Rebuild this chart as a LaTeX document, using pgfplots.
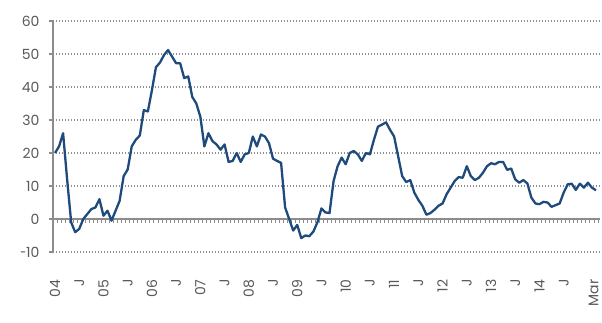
\documentclass[border=0pt]{standalone}
\usepackage{pgfplots}
\pgfplotsset{compat=1.18}
\usepackage{fontspec}
\setmainfont{Poppins}
\definecolor{navy}{HTML}{1F4A7C}
\definecolor{axgray}{HTML}{8C8C8C}
\definecolor{gridgray}{HTML}{8F8F8F}
\definecolor{txtgray}{HTML}{595959}

% Monthly series, Jan 2004 (index 0) to Mar 2015 (index 134)
\pgfplotstableread{
m v
0 20
1 22
2 26
3 12
4 -1
5 -4
6 -3
7 0
8 1.5
9 3
10 3.5
11 6
12 1
13 2.5
14 -0.5
15 2.5
16 5.5
17 13
18 15
19 22
20 24
21 25.3
22 33
23 32.6
24 39
25 46
26 47.4
27 49.7
28 51.2
29 49.2
30 47.2
31 47.2
32 42.7
33 43.2
34 37
35 35
36 31
37 22
38 26
39 23.6
40 22.6
41 21
42 22.6
43 17.3
44 17.6
45 20
46 17.3
47 19.6
48 20
49 25
50 22
51 25.6
52 25
53 23
54 18.3
55 17.6
56 17
57 3.5
58 0
59 -3.5
60 -1.8
61 -5.8
62 -5
63 -5.2
64 -3.8
65 -1
66 3.2
67 2
68 1.8
69 11.5
70 16
71 18.6
72 16.6
73 20
74 20.6
75 19.6
76 17.6
77 20
78 19.6
79 24
80 28
81 28.6
82 29.3
83 27
84 25
85 19
86 13
87 11.2
88 11.8
89 8
90 5.8
91 4
92 1.3
93 1.8
94 2.8
95 4
96 4.7
97 7.5
98 9.5
99 11.5
100 12.7
101 12.5
102 16
103 13
104 11.8
105 12.5
106 14
107 16
108 16.9
109 16.6
110 17.3
111 17.3
112 14.9
113 15.3
114 12
115 11
116 11.8
117 10.8
118 6.5
119 4.7
120 4.5
121 5.2
122 5
123 3.7
124 4.2
125 4.7
126 8
127 10.5
128 10.7
129 8.8
130 10.7
131 9.5
132 11
133 9.5
134 8.7
}\series

\begin{document}
\begin{tikzpicture}
\path[use as bounding box] (-53pt,-70pt) rectangle (549pt,252pt);
\begin{axis}[
  at={(0,0)}, anchor=south west,
  scale only axis, width=547pt, height=231pt,
  xmin=-0.5, xmax=135, ymin=-10, ymax=60,
  axis y line*=left, axis x line*=bottom,
  x axis line style={draw=none},
  y axis line style={draw=axgray, line width=1.5pt, -},
  ytick={-10,0,10,20,30,40,50,60},
  yticklabels={{\scalebox{0.75}[1]{-}10},0,10,20,30,40,50,60},
  xtick={0,6,12,18,24,30,36,42,48,54,60,66,72,78,84,90,96,102,108,114,120,126,133.4},
  xticklabels={04,J,05,J,06,J,07,J,08,J,09,J,10,J,11,J,12,J,13,J,14,J,Mar},
  tick align=outside,
  major tick length=4pt,
  xtick style={draw=none},
  ytick style={draw=axgray, line width=1.2pt},
  ymajorgrids,
  major grid style={draw=gridgray, line width=1.2pt, dash pattern=on 1.3pt off 1.7pt},
  tick label style={font=\fontsize{14}{16}\selectfont, text=txtgray},
  xticklabel style={rotate=90, anchor=east},
  xticklabel shift=20pt,
  yticklabel shift=6pt,
  clip=false,
]
\draw[axgray, line width=1.6pt] (axis cs:-0.5,0) -- (axis cs:135,0);
\pgfplotsinvokeforeach{-0.5,0.5,...,134.5}{
  \draw[axgray, line width=0.9pt] (axis cs:#1,0) -- ++(0pt,-4pt);
}
\addplot[navy, line width=2.3pt, line join=round, mark=none] table[x=m, y=v] {\series};
\end{axis}
\end{tikzpicture}
\end{document}
